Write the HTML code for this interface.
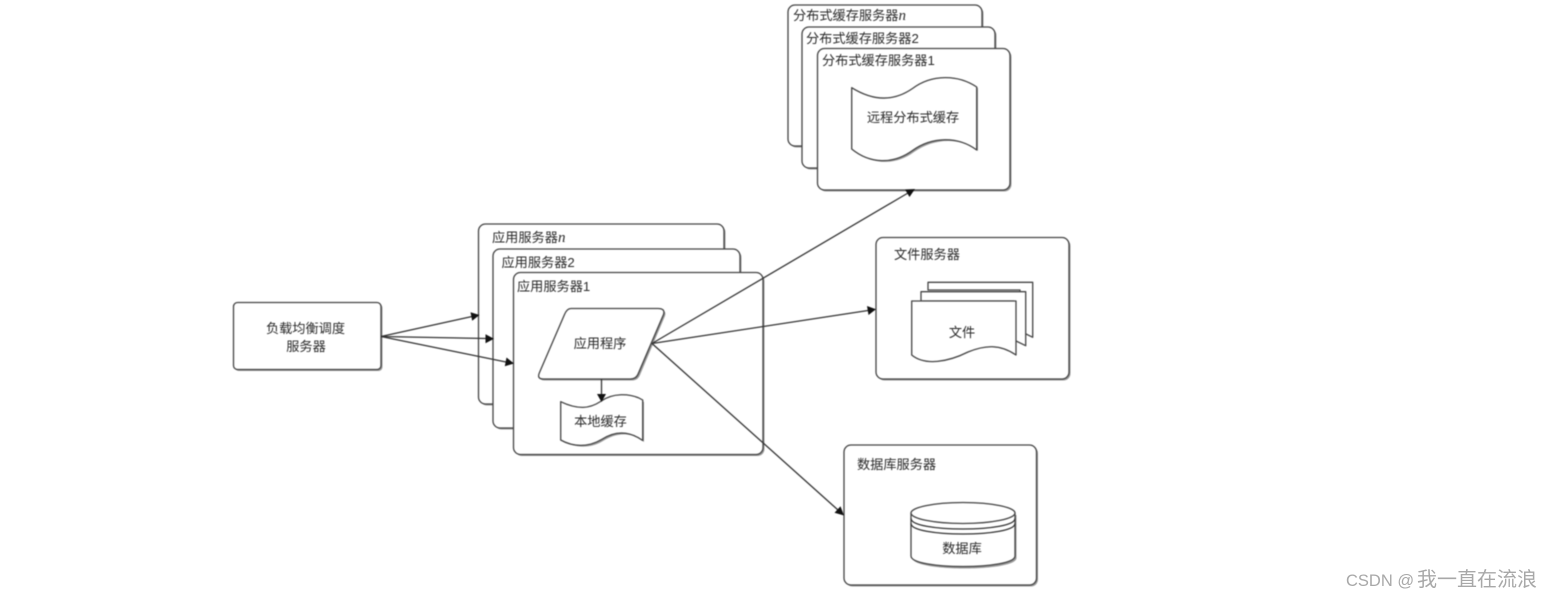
<!DOCTYPE html>
<html lang="zh">
<head>
<meta charset="utf-8">
<title>Diagram</title>
<style>
html,body{margin:0;padding:0;background:#fff;width:1553px;height:598px;overflow:hidden}
svg{display:block}
#d{filter:blur(.55px)}
text{font-family:"Liberation Sans","Noto Sans CJK SC",sans-serif;font-size:13.2px;fill:#2a2a2a}
.box{fill:#fff;stroke:#444;stroke-width:1.3}
.sh{fill:#999;stroke:none}
.s{fill:#fff;stroke:#444;stroke-width:1.3;stroke-linejoin:round}
.c{fill:none;stroke:#333;stroke-width:1.3}
.a{fill:#111}
.n{font-family:"Liberation Serif",serif;font-style:italic;font-weight:normal;font-size:15px}
</style>
</head>
<body>
<svg width="1553" height="598" viewBox="0 0 1553 598" xmlns="http://www.w3.org/2000/svg">
<g id="d">
<!-- load balancer -->
<rect class="sh" x="235" y="304" width="147.500" height="67" rx="4"/>
<rect class="box" x="233.500" y="302.500" width="147.500" height="67" rx="4"/>
<text x="305.500" y="333" text-anchor="middle">负载均衡调度</text>
<text x="306" y="351" text-anchor="middle">服务器</text>

<!-- app servers -->
<rect class="sh" x="480" y="225.500" width="245.500" height="180" rx="7"/>
<rect class="box" x="478.500" y="224" width="245.500" height="180" rx="7"/>
<text x="492" y="242">应用服务器<tspan class="n">n</tspan></text>
<rect class="sh" x="494.500" y="250.500" width="247" height="179" rx="7"/>
<rect class="box" x="493" y="249" width="247" height="179" rx="7"/>
<text x="501.500" y="267">应用服务器2</text>
<rect class="sh" x="515" y="274" width="249.500" height="182" rx="7"/>
<rect class="box" x="513.500" y="272.500" width="249.500" height="182" rx="7"/>
<text x="517" y="291">应用服务器1</text>

<!-- app program -->
<path class="sh" d="M572 310H660Q667 310 665 316L640 375Q638 380.500 632 380.500H545Q538 380.500 541 374L566 316Q569 310 572 310Z"/>
<path class="s" d="M571 308.500H658Q665.500 308.500 663.500 314.500L638.500 373Q636.500 379 630.500 379H543.500Q536.500 379 539.500 372.500L564.500 314.500Q567 308.500 571 308.500Z"/>
<text x="600" y="348" text-anchor="middle">应用程序</text>

<!-- local cache -->
<path class="sh" d="M562 403C580 412 592 410 602 403C614 394 632 394 644 402V442C630 431 616 433 603 441C590 449 575 448 562 441Z"/>
<path class="s" d="M560.700 401.700C578 410 590 408.500 600.500 401.500C612 393 630 392.500 642.700 400V440.500C628 430 614 431.500 601.500 439.500C588 447.500 573 447 560.700 440Z"/>
<text x="600.500" y="426" text-anchor="middle">本地缓存</text>
<line class="c" x1="601.500" y1="379" x2="601.500" y2="395"/>
<polygon class="a" points="601.500,402 597,394 606,394"/>

<!-- cache servers -->
<rect class="sh" x="789.500" y="6.500" width="194" height="141" rx="7"/>
<rect class="box" x="788" y="5" width="194" height="141" rx="7"/>
<text x="793" y="20">分布式缓存服务器<tspan class="n">n</tspan></text>
<rect class="sh" x="803.500" y="28.500" width="193" height="141" rx="7"/>
<rect class="box" x="802" y="27" width="193" height="141" rx="7"/>
<text x="806" y="43">分布式缓存服务器2</text>
<rect class="sh" x="819" y="50" width="192.500" height="141.500" rx="7"/>
<rect class="box" x="817.500" y="48.500" width="192.500" height="141.500" rx="7"/>
<text x="822" y="65">分布式缓存服务器1</text>
<path class="sh" d="M853 89C875 102 895 103 914 90C934 75 960 76 978 88V151C960 137 934 138 914 152C895 166 872 165 853 150Z"/>
<path class="s" d="M851.700 87.700C873 101 893 102 912.500 88.500C932 74 958 74.500 976.700 87V150C958 136 932 136.500 912.500 150.500C893 164.500 870 164 851.700 149Z"/>
<text x="913" y="122" text-anchor="middle">远程分布式缓存</text>

<!-- file server -->
<rect class="sh" x="877.500" y="239" width="193" height="141.500" rx="7"/>
<rect class="box" x="876" y="237.500" width="193" height="141.500" rx="7"/>
<text x="894" y="259">文件服务器</text>
<path class="s" d="M928 282.300H1032.700V337.300L1020 331V290H928Z"/>
<path class="s" d="M921 291.700H1025.700V345.700L1014 340V301H921Z"/>
<path class="s" d="M911.700 301H1016V355C1000 344 985 345 968 352C948 362 925 366 911.700 355Z"/>
<text x="962" y="337" text-anchor="middle">文件</text>

<!-- database server -->
<rect class="sh" x="845.500" y="446.500" width="192.500" height="140" rx="7"/>
<rect class="box" x="844" y="445" width="192.500" height="140" rx="7"/>
<text x="857" y="469">数据库服务器</text>
<path class="sh" d="M912.500 515V558C912.500 572 1016.500 572 1016.500 558V515Z"/>
<path class="s" d="M911 513V556C911 570 1015 570 1015 556V513Z"/>
<ellipse class="s" cx="963" cy="513" rx="52" ry="10.500"/>
<path class="c" d="M911 518.500C911 532.500 1015 532.500 1015 518.500"/>
<path class="c" d="M911 523.500C911 537.500 1015 537.500 1015 523.500"/>
<text x="962" y="553" text-anchor="middle">数据库</text>

<!-- connectors -->
<line class="c" x1="381" y1="336.500" x2="472" y2="316.500"/>
<polygon class="a" points="479.500,315 470.500,312.200 472.200,320.800"/>
<line class="c" x1="381" y1="336.500" x2="486" y2="338.500"/>
<polygon class="a" points="494,338.700 485.500,334.200 485.500,343.200"/>
<line class="c" x1="381" y1="336.500" x2="506" y2="362"/>
<polygon class="a" points="514,363.500 506.500,357.500 504.800,366.200"/>
<line class="c" x1="652" y1="343.500" x2="908" y2="193"/>
<polygon class="a" points="915,189 905,189.500 909.500,197"/>
<line class="c" x1="652" y1="343.500" x2="868" y2="310.500"/>
<polygon class="a" points="876,309.300 867,306 868.500,315"/>
<line class="c" x1="652" y1="343.500" x2="838" y2="510"/>
<polygon class="a" points="844,515.500 840.500,506.200 834.500,512.800"/>
</g>

<!-- watermark -->
<text x="1346" y="586" style="font-size:16.500px;fill:#a8a8a8">CSDN @</text>
<text x="1417" y="586" style="font-size:20px;fill:#a8a8a8">我一直在流浪</text>
</svg>
</body>
</html>
